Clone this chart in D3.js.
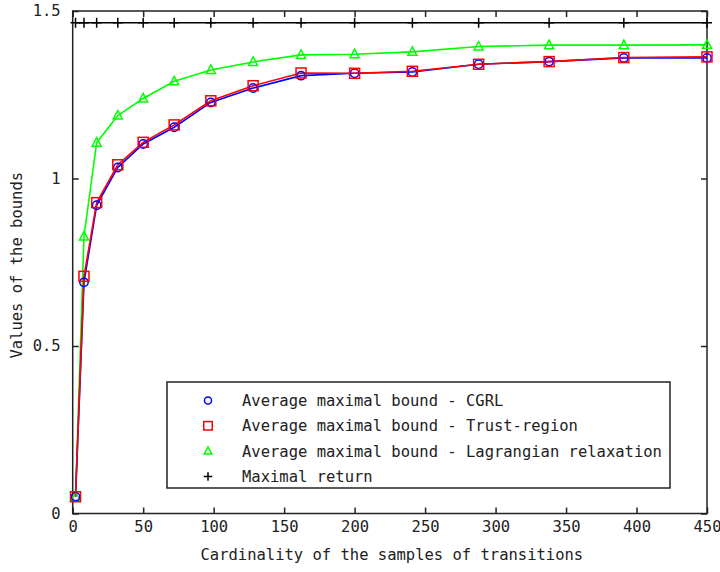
<!DOCTYPE html>
<html><head><meta charset="utf-8">
<script src="https://cdn.jsdelivr.net/npm/d3@7"></script>
<style>body{margin:0;background:#fff}svg{display:block}text{font-family:"DejaVu Sans Mono",monospace;fill:#222}</style>
</head><body><svg id="c" width="720" height="572"></svg>
<script>
const xs = [2, 8, 17, 32, 50, 72, 98, 128, 162, 200, 241, 288, 338, 391, 450];
const cgrl = [0.05, 0.69, 0.92, 1.033, 1.103, 1.153, 1.227, 1.27, 1.307, 1.314, 1.318, 1.341, 1.349, 1.36, 1.36];
const trust = [0.05, 0.708, 0.928, 1.041, 1.108, 1.16, 1.232, 1.277, 1.315, 1.314, 1.32, 1.341, 1.349, 1.361, 1.363];
const lagr = [0.05, 0.827, 1.107, 1.188, 1.239, 1.29, 1.324, 1.348, 1.369, 1.371, 1.378, 1.394, 1.398, 1.398, 1.399];
const maxret = [1.465, 1.465, 1.465, 1.465, 1.465, 1.465, 1.465, 1.465, 1.465, 1.465, 1.465, 1.465, 1.465, 1.465, 1.465];
const xTicks = [0, 50, 100, 150, 200, 250, 300, 350, 400, 450];
const yTicks = [0, 0.5, 1, 1.5];
const yTickLabels = ["0", "0.5", "1", "1.5"];
const legendLabels = ["Average maximal bound - CGRL", "Average maximal bound - Trust-region", "Average maximal bound - Lagrangian relaxation", "Maximal return"];
const xTitle = "Cardinality of the samples of transitions";
const yTitle = "Values of the bounds";

const svg = d3.select("#c");
const L = 72.7, R = 707, T = 11, B = 513.5;
const x = d3.scaleLinear().domain([0, 450]).range([L, R]);
const y = d3.scaleLinear().domain([0, 1.5]).range([B, T]);
const fs = 15.5;

// frame
svg.append("rect").attr("x", L).attr("y", T).attr("width", R - L).attr("height", B - T)
  .attr("fill", "none").attr("stroke", "#222").attr("stroke-width", 1.5);

// axes with inward ticks
const gx = svg.append("g").attr("transform", `translate(0,${B})`)
  .call(d3.axisBottom(x).tickValues(xTicks).tickSizeInner(-6).tickSizeOuter(0).tickPadding(10).tickFormat(d3.format("d")));
const gxt = svg.append("g").attr("transform", `translate(0,${T})`)
  .call(d3.axisTop(x).tickValues(xTicks).tickSizeInner(-6).tickSizeOuter(0).tickFormat(""));
const gy = svg.append("g").attr("transform", `translate(${L},0)`)
  .call(d3.axisLeft(y).tickValues(yTicks).tickSizeInner(-6).tickSizeOuter(0).tickPadding(12).tickFormat((d, i) => yTickLabels[i]));
const gyr = svg.append("g").attr("transform", `translate(${R},0)`)
  .call(d3.axisRight(y).tickValues(yTicks).tickSizeInner(-6).tickSizeOuter(0).tickFormat(""));
[gx, gxt, gy, gyr].forEach(g => {
  g.select(".domain").remove();
  g.selectAll("line").attr("stroke", "#222").attr("stroke-width", 1.5);
  g.selectAll("text").attr("font-size", fs).attr("font-family", "DejaVu Sans Mono").attr("fill", "#222");
});
gx.selectAll("text").attr("dy", "0.55em");

svg.append("text").attr("x", (L + R) / 2 + 2).attr("y", 560).attr("text-anchor", "middle")
  .attr("font-size", fs).text(xTitle);
svg.append("text").attr("transform", `translate(22,${(T + B) / 2 + 3}) rotate(-90)`).attr("text-anchor", "middle")
  .attr("font-size", fs).text(yTitle);

const line = d3.line().x((d, i) => x(xs[i])).y(d => y(d));
const series = [
  {vals: maxret, color: "#000", shape: "plus"},
  {vals: lagr, color: "#00ff00", shape: "tri"},
  {vals: cgrl, color: "#0000ff", shape: "circ"},
  {vals: trust, color: "#ff0000", shape: "sq"}
];
function marker(g, shape, cx, cy, color, s) {
  if (shape === "circ") g.append("circle").attr("cx", cx).attr("cy", cy).attr("r", 4.2 * s).attr("fill", "none").attr("stroke", color).attr("stroke-width", 1.5);
  else if (shape === "sq") g.append("rect").attr("x", cx - 5 * s).attr("y", cy - 5 * s).attr("width", 10 * s).attr("height", 10 * s).attr("fill", "none").attr("stroke", color).attr("stroke-width", 1.5);
  else if (shape === "tri") g.append("path").attr("d", `M${cx},${cy - 5 * s}L${cx + 4.5 * s},${cy + 3.5 * s}L${cx - 4.5 * s},${cy + 3.5 * s}Z`).attr("fill", "none").attr("stroke", color).attr("stroke-width", 1.5);
  else g.append("path").attr("d", `M${cx - 5 * s},${cy}H${cx + 5 * s}M${cx},${cy - 5 * s}V${cy + 5 * s}`).attr("stroke", color).attr("stroke-width", 1.5);
}
const plot = svg.append("g");
series.forEach(s => {
  plot.append("path").datum(s.vals).attr("d", line).attr("fill", "none").attr("stroke", s.color).attr("stroke-width", 1.6);
});
series.forEach(s => {
  s.vals.forEach((v, i) => marker(plot, s.shape, x(xs[i]), y(v), s.color, 1));
});

// legend
const lg = svg.append("g");
lg.append("rect").attr("x", 167).attr("y", 382).attr("width", 503).attr("height", 106)
  .attr("fill", "#fff").attr("stroke", "#222").attr("stroke-width", 1.5);
const legShapes = [["circ", "#0000ff"], ["sq", "#ff0000"], ["tri", "#00ff00"], ["plus", "#000"]];
legendLabels.forEach((t, i) => {
  const cy = 400.5 + i * 25.3;
  marker(lg, legShapes[i][0], 208, cy, legShapes[i][1], 0.85);
  lg.append("text").attr("x", 242).attr("y", cy).attr("dy", "0.36em").attr("font-size", fs).text(t);
});
</script></body></html>
